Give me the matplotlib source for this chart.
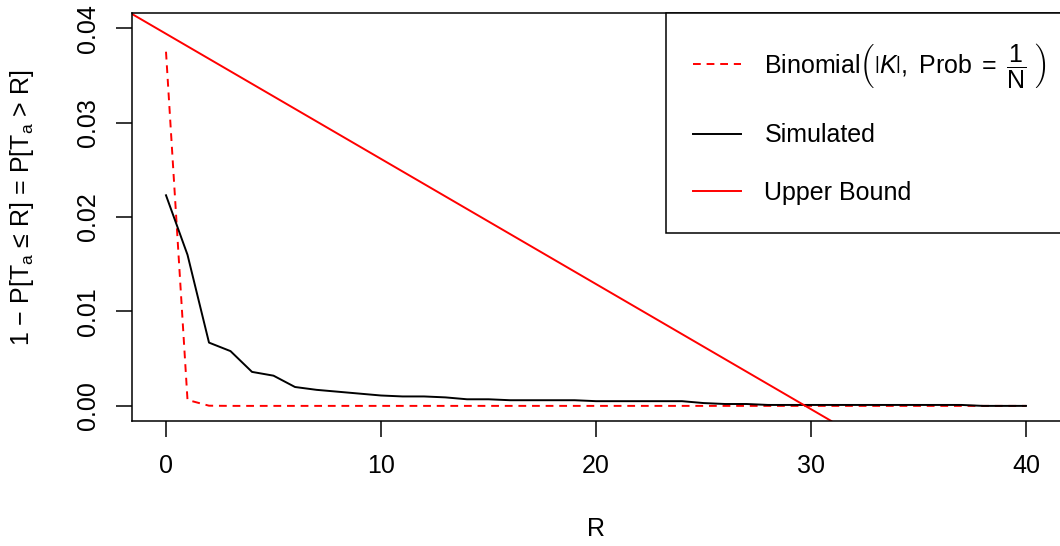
import numpy as np
import matplotlib
matplotlib.use('Agg')
import matplotlib.pyplot as plt
from matplotlib.lines import Line2D

plt.rcParams['font.family'] = ['Liberation Sans', 'DejaVu Sans']
plt.rcParams['mathtext.fontset'] = 'custom'
plt.rcParams['mathtext.rm'] = 'Liberation Sans'
plt.rcParams['mathtext.it'] = 'Liberation Sans:italic'
plt.rcParams['mathtext.bf'] = 'Liberation Sans:bold'

# values
R = np.arange(0, 41)
simulated = [0.0223, 0.0160, 0.0067, 0.0058, 0.0036, 0.0032, 0.0020, 0.0017,
             0.0015, 0.0013, 0.0011, 0.0010, 0.0010, 0.0009, 0.0007, 0.0007,
             0.0006, 0.0006, 0.0006, 0.0006, 0.0005, 0.0005, 0.0005, 0.0005,
             0.0005, 0.0003, 0.0002, 0.0002, 0.0001, 0.0001, 0.0001, 0.0001,
             0.0001, 0.0001, 0.0001, 0.0001, 0.0001, 0.0001, 0.0, 0.0, 0.0]
binomial = [0.0375, 0.00063, 0.00002] + [0.0] * 38
# upper bound: straight line through two points
ub_R = [0, 40]
ub_vals = [0.0394, -0.0136]

xticks = [0, 10, 20, 30, 40]
yticks = [0.00, 0.01, 0.02, 0.03, 0.04]

FS = 18

fig = plt.figure(figsize=(10.6, 5.46), dpi=100)
ax = fig.add_axes([131.6 / 1060, 125 / 546, 928.8 / 1060, 408 / 546])

ax.plot(R, binomial, color='red', lw=1.4, dashes=(4, 3))
ax.plot(R, simulated, color='black', lw=1.4)
ax.axline((ub_R[0], ub_vals[0]), (ub_R[1], ub_vals[1]), color='red', lw=1.4)

ax.set_xlim(-1.6, 41.6)
ax.set_ylim(-0.0016, 0.0416)
ax.set_xticks(xticks)
ax.set_xticklabels([str(v) for v in xticks])
ax.set_yticks(yticks)
ax.set_yticklabels(['%.2f' % v for v in yticks], rotation=90, va='center')
ax.tick_params(axis='both', direction='out', length=11.5, width=1.1,
               labelsize=FS)
ax.tick_params(axis='x', pad=12)
ax.tick_params(axis='y', pad=11)
for s in ax.spines.values():
    s.set_linewidth(1.1)
ax.spines['right'].set_visible(False)

ax.set_xlabel('R', fontsize=FS, labelpad=28)
fig.text(22 / 1060, 1 - 208 / 546,
         '1 \u2212 P[T$_\\mathrm{a}$ \u2264 R] = P[T$_\\mathrm{a}$ > R]',
         rotation=90, ha='center', va='center', fontsize=FS)

handles = [Line2D([], [], color='red', lw=1.4, dashes=(4, 3)),
           Line2D([], [], color='black', lw=1.4),
           Line2D([], [], color='red', lw=1.4)]
labels = [r'Binomial$\left(\left|K\right|\mathrm{,\ Prob}\;=\;\dfrac{1}{\mathrm{N}}\ \right)$',
          'Simulated', 'Upper Bound']
# right edge of the legend box sits just past the cropped figure edge
leg = ax.legend(handles, labels, loc='upper right', bbox_to_anchor=(1.015, 1),
                borderaxespad=0, fontsize=FS, fancybox=False, framealpha=1,
                edgecolor='black', handlelength=1.9, handletextpad=0.95,
                borderpad=1.1, labelspacing=1.35)
leg.get_frame().set_linewidth(1.1)

fig.savefig('out.png', dpi=100)
